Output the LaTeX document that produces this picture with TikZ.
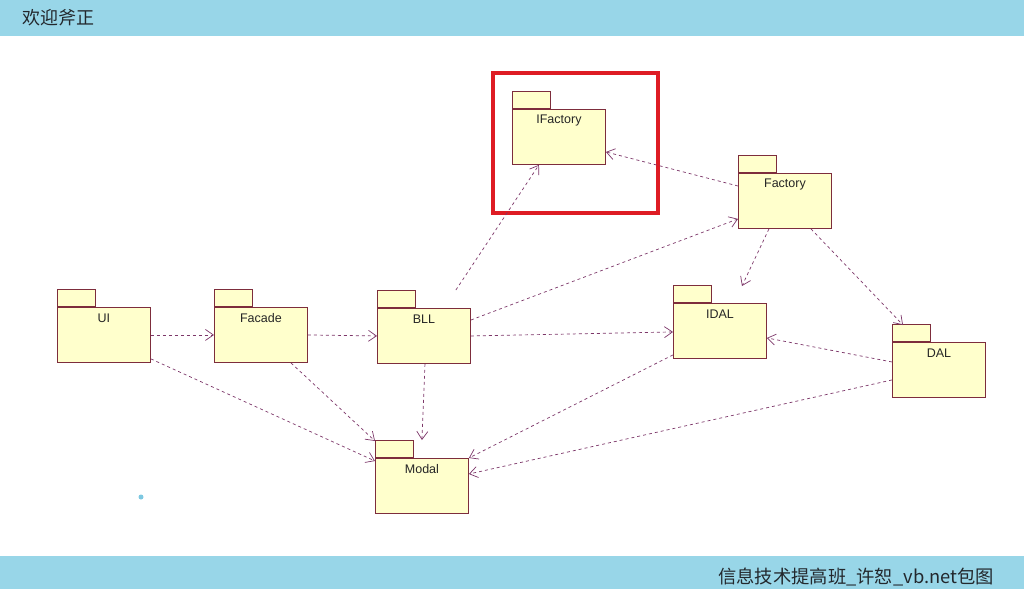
\documentclass[tikz,border=0pt]{standalone}
\usepackage{fontspec}
\setmainfont{Liberation Sans}
\newfontfamily\cjk{Noto Sans CJK SC}
\usetikzlibrary{arrows.meta,calc}
\definecolor{barblue}{RGB}{152,214,232}
\definecolor{dotblue}{RGB}{125,200,225}
\definecolor{pkgfill}{RGB}{255,255,204}
\definecolor{pkgline}{RGB}{125,45,60}
\definecolor{deplink}{RGB}{125,55,105}
\definecolor{hlred}{RGB}{222,28,36}
\definecolor{txtdark}{RGB}{35,40,45}
\tikzset{
  pkgbody/.style={draw=pkgline, fill=pkgfill, line width=0.9pt, minimum width=93pt, minimum height=55pt, inner sep=0pt, anchor=north west},
  pkgtab/.style={draw=pkgline, fill=pkgfill, line width=0.9pt, minimum width=38pt, minimum height=17pt, inner sep=0pt, anchor=south west},
  pkglabel/.style={font=\fontsize{12.5}{14}\selectfont, text=black!85, inner sep=0pt, anchor=center},
  dep/.style={draw=deplink, line width=0.7pt, dash pattern=on 3pt off 3pt, -{Straight Barb[length=8pt,width=11pt]}},
}
\newcommand{\pkgdraw}[4]{%
  \node[pkgbody] (#1) at (#2,#3) {};
  \node[pkgtab] (#1-tab) at (#1.north west) {};
  \node[pkglabel] (#1-lbl) at ($(#1.north)+(0,11)$) {#4};
}
\begin{document}
\begin{tikzpicture}[x=1pt,y=-1pt]
\useasboundingbox (0,0) rectangle (1024,589);
\fill[white] (0,0) rectangle (1024,589);
% bars
\fill[barblue] (0,0) rectangle (1024,36);
\fill[barblue] (0,556) rectangle (1024,589);
\node[font=\cjk\fontsize{18}{20}\selectfont, text=txtdark, anchor=west, inner sep=0pt] (title) at (22,18) {欢迎斧正};
\node[font=\cjk\fontsize{18.3}{20}\selectfont, text=txtdark, anchor=east, inner sep=0pt] (footer) at (994,577) {信息技术提高班\_许恕\_vb.net包图};
% dot
\fill[dotblue] (141,497) circle (2.5);
% highlight
\draw[hlred, line width=4pt] (493,73) rectangle (658,213);
% packages
\pkgdraw{UI}{57}{307}{UI}
\pkgdraw{Facade}{214}{307}{Facade}
\pkgdraw{BLL}{377}{308}{BLL}
\pkgdraw{IF}{512}{109}{IFactory}
\pkgdraw{Factory}{738}{173}{Factory}
\pkgdraw{IDAL}{673}{303}{IDAL}
\pkgdraw{DAL}{892}{342}{DAL}
\pkgdraw{Modal}{375}{458}{Modal}
% dependencies
\draw[dep] (UI.east) -- (Facade.west);
\draw[dep] (Facade.east) -- (BLL.west);
\draw[dep] (BLL.east) -- ($(IDAL.west)+(0,1)$);
\draw[dep] ($(BLL.north east)+(0,12)$) -- ($(Factory.south west)+(0,-10)$);
\draw[dep] ($(BLL.north east)+(-15,-18)$) -- ($(IF.south)+(-20,0)$);
\draw[dep] ($(BLL.south)+(1,0)$) -- ($(Modal.north)+(0,-18)$);
\draw[dep] ($(UI.south east)+(0,-4)$) -- ($(Modal.north west)+(0,3)$);
\draw[dep] ($(Facade.south)+(30,0)$) -- ($(Modal.north west)+(0,-17)$);
\draw[dep] ($(IDAL.south west)+(0,-4)$) -- (Modal.north east);
\draw[dep] ($(DAL.west)+(0,10)$) -- ($(Modal.north east)+(0,16)$);
\draw[dep] ($(DAL.west)+(0,-8)$) -- ($(IDAL.east)+(0,7)$);
\draw[dep] ($(Factory.north west)+(0,13)$) -- ($(IF.east)+(0,15)$);
\draw[dep] ($(Factory.south)+(-16,0)$) -- ($(IDAL.north)+(22,-17)$);
\draw[dep] ($(Factory.south)+(26,0)$) -- ($(DAL.north west)+(11,-17)$);
\end{tikzpicture}
\end{document}
